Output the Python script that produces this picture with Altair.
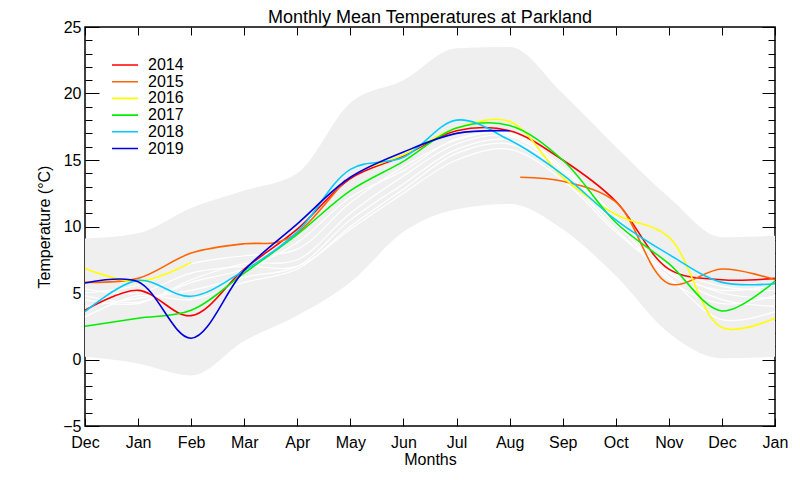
import altair as alt
import pandas as pd

# ---------------- data ----------------
MONTH_LABELS = ["Dec", "Jan", "Feb", "Mar", "Apr", "May", "Jun",
                "Jul", "Aug", "Sep", "Oct", "Nov", "Dec", "Jan"]
MONTH_POS = list(range(14))

Y_MAJOR = [-5, 0, 5, 10, 15, 20, 25]
Y_MINOR = list(range(-5, 26))

# grey envelope (upper / lower), one value per month tick
BAND_UPPER = [9.1, 9.5, 11.4, 12.7, 14.0, 19.3, 21.0, 23.4, 23.5, 20.0, 16.0, 12.2, 9.2, 9.3]
BAND_LOWER = [0.2, -0.3, -1.2, 1.4, 3.3, 5.8, 9.6, 11.3, 11.7, 9.8, 6.3, 2.0, 0.1, 0.2]

# white climatology lines (other years)
WHITE_1 = [5.0, 5.6, 7.2, 7.8, 8.3, 11.8, 14.5, 16.5, 17.0, 14.5, 10.8, 7.0, 5.5, 5.2]
WHITE_2 = [4.5, 4.2, 6.0, 7.2, 7.5, 11.0, 13.8, 16.2, 16.8, 14.2, 10.5, 6.8, 5.0, 4.6]
WHITE_3 = [4.0, 4.6, 5.2, 6.2, 7.0, 10.5, 13.2, 15.8, 16.5, 14.0, 10.2, 6.5, 4.5, 4.0]
WHITE_4 = [3.2, 4.8, 4.5, 5.8, 6.8, 10.0, 12.8, 15.5, 16.2, 13.8, 9.8, 6.2, 3.0, 3.6]
WHITE_5 = [4.8, 4.3, 5.8, 6.8, 8.8, 12.2, 14.2, 16.6, 16.9, 14.3, 10.4, 6.0, 4.2, 4.8]
WHITE_6 = [5.3, 5.0, 6.5, 7.0, 7.0, 9.8, 12.5, 15.0, 15.8, 13.5, 9.6, 6.6, 5.2, 5.6]

YEARS = ["2014", "2015", "2016", "2017", "2018", "2019"]
COLORS = ["#ff0000", "#ff6400", "#ffff00", "#00ee00", "#00ccff", "#0000dd"]

Y2014 = [3.7, 5.2, 3.3, 6.8, 9.8, 13.6, 15.3, 17.2, 17.2, 15.0, 11.9, 6.8, 6.0, 6.1]
Y2015A_X = [0, 1, 2, 3, 3.6, 4, 4.9]
Y2015A = [5.8, 6.1, 8.0, 8.7, 8.8, 9.5, 13.5]
Y2015B_X = [8.2, 9, 10, 11, 12, 13]
Y2015B = [13.7, 13.4, 11.85, 5.7, 6.8, 6.0]
Y2016A_X = [0, 1, 2]
Y2016A = [6.85, 5.85, 7.3]
Y2016B_X = [5.3, 6, 7, 8, 9, 10, 11, 12, 13]
Y2016B = [14.4, 15.4, 17.4, 17.9, 13.7, 10.9, 9.2, 2.4, 3.1]
Y2017 = [2.5, 3.1, 3.7, 6.5, 9.4, 12.7, 14.9, 17.4, 17.6, 15.0, 10.3, 7.2, 3.65, 5.9]
Y2018 = [3.6, 5.95, 4.75, 6.7, 9.6, 14.3, 15.2, 18.0, 16.5, 13.9, 10.5, 7.9, 5.8, 5.7]
Y2019_X = [0, 1, 2, 3, 4, 5, 6, 7, 8]
Y2019 = [5.75, 5.85, 1.6, 6.7, 10.2, 13.7, 15.6, 17.0, 17.2]

# ---------------- tables ----------------
band_df = pd.DataFrame({"month": MONTH_POS, "upper": BAND_UPPER, "lower": BAND_LOWER})


def rows(xs, ys, year, seg):
    return [{"month": x, "temp": y, "year": year, "seg": seg} for x, y in zip(xs, ys)]


white_a = pd.DataFrame(rows(MONTH_POS, WHITE_1, "w", "w1") + rows(MONTH_POS, WHITE_2, "w", "w2")
                       + rows(MONTH_POS, WHITE_3, "w", "w3"))
white_b = pd.DataFrame(rows(MONTH_POS, WHITE_4, "w", "w4") + rows(MONTH_POS, WHITE_5, "w", "w5")
                       + rows(MONTH_POS, WHITE_6, "w", "w6"))

col_a = pd.DataFrame(rows(MONTH_POS, Y2014, "2014", "2014")
                     + rows(Y2015A_X, Y2015A, "2015", "2015a")
                     + rows(Y2015B_X, Y2015B, "2015", "2015b")
                     + rows(Y2016A_X, Y2016A, "2016", "2016a")
                     + rows(Y2016B_X, Y2016B, "2016", "2016b"))
col_b = pd.DataFrame(rows(MONTH_POS, Y2017, "2017", "2017")
                     + rows(MONTH_POS, Y2018, "2018", "2018")
                     + rows(Y2019_X, Y2019, "2019", "2019"))

# ---------------- scales & axes ----------------
FONT = "Liberation Sans"
xs = alt.Scale(domain=[0, 13], nice=False, zero=False)
ys = alt.Scale(domain=[-5, 25], nice=False, zero=False)
label_expr = "[" + ",".join("'%s'" % m for m in MONTH_LABELS) + "][datum.value]"

ax_x_labels = alt.Axis(orient="bottom", values=MONTH_POS, labelExpr=label_expr, ticks=False, tickSize=0,
                       domain=False, grid=False, labelFontSize=16, labelPadding=8, labelFlush=False,
                       labelOverlap=False, title="Months", titleFontSize=16, titlePadding=1,
                       titleFontWeight="normal")
ax_x_bottom = alt.Axis(orient="bottom", values=MONTH_POS, labels=False, domain=False, grid=False,
                       tickSize=8, offset=-8, title=None)
ax_x_top = alt.Axis(orient="top", values=MONTH_POS, labels=False, domain=False, grid=False,
                    tickSize=8, offset=-8, title=None)

ax_y_labels = alt.Axis(orient="left", values=Y_MAJOR, ticks=False, tickSize=0, domain=False, grid=False,
                       labelFontSize=16, labelPadding=4, labelFlush=False, labelOverlap=False,
                       title="Temperature (°C)", titleFontSize=16, titlePadding=10,
                       titleFontWeight="normal")
ax_y_left_major = alt.Axis(orient="left", values=Y_MAJOR, labels=False, domain=False, grid=False,
                           tickSize=14, offset=-14, title=None)
ax_y_left_minor = alt.Axis(orient="left", values=Y_MINOR, labels=False, domain=False, grid=False,
                           tickSize=7, offset=-7, title=None)
ax_y_right_major = alt.Axis(orient="right", values=Y_MAJOR, labels=False, domain=False, grid=False,
                            tickSize=13, offset=-13, title=None)
ax_y_right_minor = alt.Axis(orient="right", values=Y_MINOR, labels=False, domain=False, grid=False,
                            tickSize=7, offset=-7, title=None)

legend = alt.Legend(title=None, orient="none", legendX=26, legendY=30, symbolType="stroke",
                    symbolSize=676, symbolStrokeWidth=1.6, clipHeight=16, rowPadding=0.7,
                    labelFontSize=16, labelFont=FONT, labelColor="black", labelOffset=9, padding=0)
color = alt.Color("year:N", scale=alt.Scale(domain=YEARS, range=COLORS), legend=legend)

LINE_INTERP = "catmull-rom"

# ---------------- layers ----------------
band = alt.Chart(band_df).mark_area(color="#efefef", interpolate="monotone").encode(
    x=alt.X("month:Q", scale=xs, axis=ax_x_labels),
    y=alt.Y("upper:Q", scale=ys, axis=ax_y_labels),
    y2="lower:Q",
)

white1 = alt.Chart(white_a).mark_line(color="white", strokeWidth=1.2, interpolate=LINE_INTERP).encode(
    x=alt.X("month:Q", scale=xs, axis=ax_x_bottom),
    y=alt.Y("temp:Q", scale=ys, axis=ax_y_left_major),
    detail="seg:N",
)
white2 = alt.Chart(white_b).mark_line(color="white", strokeWidth=1.2, interpolate=LINE_INTERP).encode(
    x=alt.X("month:Q", scale=xs, axis=None),
    y=alt.Y("temp:Q", scale=ys, axis=ax_y_right_minor),
    detail="seg:N",
)
lines1 = alt.Chart(col_a).mark_line(strokeWidth=1.6, interpolate=LINE_INTERP).encode(
    x=alt.X("month:Q", scale=xs, axis=ax_x_top),
    y=alt.Y("temp:Q", scale=ys, axis=ax_y_left_minor),
    color=color,
    detail="seg:N",
)
lines2 = alt.Chart(col_b).mark_line(strokeWidth=1.6, interpolate=LINE_INTERP).encode(
    x=alt.X("month:Q", scale=xs, axis=None),
    y=alt.Y("temp:Q", scale=ys, axis=ax_y_right_major),
    color=color,
    detail="seg:N",
)

chart = alt.layer(band, white1, white2, lines1, lines2).resolve_axis(
    x="independent", y="independent"
).properties(
    width=690,
    height=399,
    autosize=alt.AutoSizeParams(type="none"),
    padding={"left": 77, "top": 19, "right": 17, "bottom": 45},
    title=alt.Title("Monthly Mean Temperatures at Parkland", fontSize=18, fontWeight="normal",
                    font=FONT, color="black", offset=2, dy=10, frame="group", anchor="middle"),
).configure(font=FONT).configure_view(
    stroke="black", strokeWidth=1.5
).configure_axis(
    labelFont=FONT, titleFont=FONT, labelColor="black", titleColor="black", tickColor="black", tickWidth=1
)

chart.save("out.html", embed_options={"renderer": "svg", "actions": False})
